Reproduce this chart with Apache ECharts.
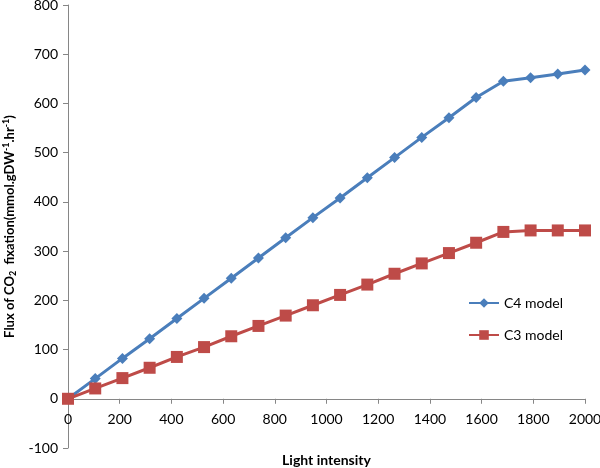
<!DOCTYPE html>
<html><head><meta charset="utf-8">
<script src="https://cdn.jsdelivr.net/npm/echarts@6/dist/echarts.min.js"></script>
<style>html,body{margin:0;padding:0;background:#fff}#c{width:600px;height:468px}</style>
</head><body><div id="c"></div>
<script>
const lightIntensity = [0,105.3,210.5,315.8,421.1,526.3,631.6,736.8,842.1,947.4,1052.6,1157.9,1263.2,1368.4,1473.7,1578.9,1684.2,1789.5,1894.7,2000];
const c4Model = [0,41,82,122,163,204,245,286,327,368,408,449,490,531,571,612,645,652,660,668];
const c3Model = [0,21,42,63,85,105,127,148,169,190,211,232,254,275,296,317,339,342,342,342];
const xTicks = {min:0,max:2000,interval:200};
const yTicks = {min:-100,max:800,interval:100};
const seriesNames = ['C4 model','C3 model'];

const W = 600, H = 468;
const grid = {left:68,right:15,top:5,bottom:20};
const gridH = H - grid.top - grid.bottom;
// move x axis up to y = 0 using the y scale
const zeroOffset = -gridH * (0 - yTicks.min) / (yTicks.max - yTicks.min);

const font = 'Lato, "Open Sans", sans-serif';
const pair = (xs, ys) => xs.map((x,i)=>[x,ys[i]]);
const chart = echarts.init(document.getElementById('c'));
chart.setOption({
  animation:false,
  textStyle:{fontFamily:font},
  grid:Object.assign({containLabel:false,outerBoundsMode:'none'}, grid),
  legend:{
    orient:'vertical', left:463, top:291, itemGap:18, itemWidth:30, itemHeight:12,
    textStyle:{fontFamily:font,fontSize:14,color:'#000'},
    data:seriesNames
  },
  xAxis:{
    type:'value', min:xTicks.min, max:xTicks.max, interval:xTicks.interval,
    position:'bottom', offset:zeroOffset,
    name:'Light intensity', nameLocation:'middle', nameGap:55,
    nameTextStyle:{fontFamily:font,fontSize:14,fontWeight:'bold',color:'#000'},
    axisLine:{onZero:false,lineStyle:{color:'#868686',width:1}},
    axisTick:{show:true,length:5,lineStyle:{color:'#868686'}},
    axisLabel:{fontFamily:font,fontSize:14,color:'#000',margin:14,formatter:v=>String(v)},
    splitLine:{show:false}
  },
  yAxis:{
    type:'value', min:yTicks.min, max:yTicks.max, interval:yTicks.interval,
    name:'{b|Flux of CO}{sub|2}{b|  fixation(mmol.gDW}{sup|-1}{b|.hr}{sup|-1}{b|)}',
    nameLocation:'middle', nameGap:48, nameRotate:90,
    nameTextStyle:{
      rich:{
        b:{fontFamily:font,fontSize:13,fontWeight:'bold',color:'#000',lineHeight:16,verticalAlign:'middle'},
        sub:{fontFamily:font,fontSize:9,fontWeight:'bold',color:'#000',lineHeight:16,verticalAlign:'bottom'},
        sup:{fontFamily:font,fontSize:9,fontWeight:'bold',color:'#000',lineHeight:16,verticalAlign:'top'}
      }
    },
    axisLine:{show:true,onZero:false,lineStyle:{color:'#868686',width:1}},
    axisTick:{show:true,length:5,lineStyle:{color:'#868686'}},
    axisLabel:{fontFamily:font,fontSize:14,color:'#000',margin:10,formatter:v=>String(v)},
    splitLine:{show:false}
  },
  series:[
    {name:seriesNames[0],type:'line',data:pair(lightIntensity,c4Model),
     symbol:'diamond',symbolSize:11,
     lineStyle:{color:'#4A7EBB',width:3},itemStyle:{color:'#4A7EBB'}},
    {name:seriesNames[1],type:'line',data:pair(lightIntensity,c3Model),
     symbol:'rect',symbolSize:12,
     lineStyle:{color:'#BE4B48',width:3},itemStyle:{color:'#BE4B48'}}
  ]
});
</script></body></html>
